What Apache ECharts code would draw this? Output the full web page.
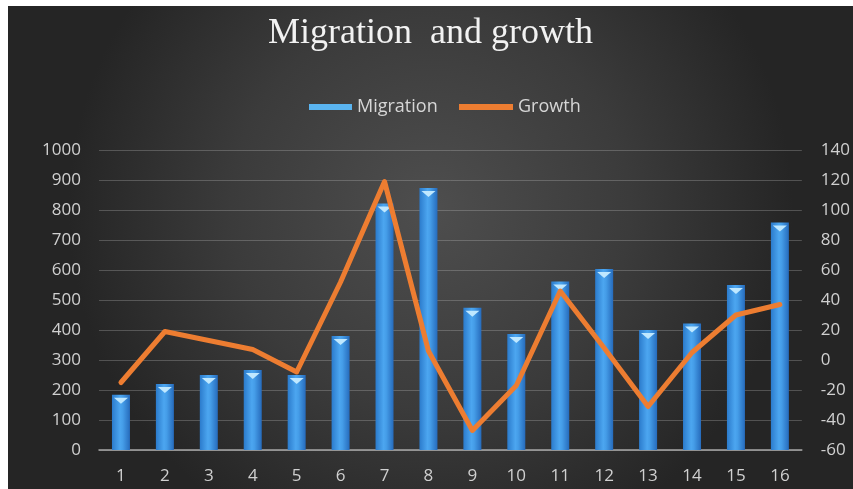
<!DOCTYPE html>
<html>
<head>
<meta charset="utf-8">
<script src="https://cdn.jsdelivr.net/npm/echarts@6/dist/echarts.min.js"></script>
<style>
  html, body { margin: 0; padding: 0; background: #ffffff; width: 853px; height: 489px; overflow: hidden; }
  #chart { position: absolute; left: 8px; top: 6px; width: 845px; height: 483px; }
</style>
</head>
<body>
<div id="chart"></div>
<script>
// Data
const categories = ['1','2','3','4','5','6','7','8','9','10','11','12','13','14','15','16'];
const migration = [184, 220, 250, 267, 250, 380, 822, 873, 474, 387, 562, 603, 400, 422, 550, 758];
const growth = [-15, 19, 13, 7, -8, 52, 119, 6, -47, -17, 46, 8, -31, 5, 30, 37];

const chart = echarts.init(document.getElementById('chart'));

const labelColor = '#d0d0d0';
const gridColor = 'rgba(200,200,200,0.28)';
const labelFont = 'Open Sans';

chart.setOption({
  animation: false,
  backgroundColor: {
    type: 'radial', x: 0.5, y: 0.42, r: 0.75,
    colorStops: [
      { offset: 0, color: '#4e4e4e' },
      { offset: 0.55, color: '#3b3b3b' },
      { offset: 1, color: '#252525' }
    ]
  },
  title: {
    text: 'Migration  and growth',
    left: 'center',
    top: 5,
    textStyle: {
      fontFamily: 'Liberation Serif',
      fontWeight: 'normal',
      fontSize: 36,
      color: '#f2f2f2'
    }
  },
  legend: [
    {
      left: 296, top: 87,
      itemWidth: 43, itemHeight: 6,
      textStyle: { color: '#d6d6d6', fontSize: 18, fontFamily: labelFont },
      data: [{ name: 'Migration', icon: 'rect', itemStyle: { color: '#5ab4f0' } }]
    },
    {
      left: 446, top: 87,
      itemWidth: 54, itemHeight: 6,
      textStyle: { color: '#d6d6d6', fontSize: 18, fontFamily: labelFont },
      data: [{ name: 'Growth', icon: 'rect', itemStyle: { color: '#ed7d31' } }]
    }
  ],
  grid: { left: 91, right: 44, top: 144, bottom: 39 },
  xAxis: {
    type: 'category',
    data: categories,
    axisTick: { show: false },
    axisLine: { lineStyle: { color: '#a8a8a8', width: 1.5 } },
    axisLabel: { color: labelColor, fontSize: 17, margin: 18, fontFamily: labelFont }
  },
  yAxis: [
    {
      type: 'value', min: 0, max: 1000, interval: 100,
      axisLine: { show: false }, axisTick: { show: false },
      splitLine: { lineStyle: { color: gridColor, width: 1 } },
      axisLabel: { color: labelColor, fontSize: 17, margin: 18, fontFamily: labelFont, formatter: v => String(v) }
    },
    {
      type: 'value', min: -60, max: 140, interval: 20,
      axisLine: { show: false }, axisTick: { show: false },
      splitLine: { show: false },
      axisLabel: { color: labelColor, fontSize: 17, margin: 19, fontFamily: labelFont, formatter: v => String(v) }
    }
  ],
  series: [
    {
      name: 'Migration',
      type: 'bar',
      data: migration,
      barWidth: 18,
      itemStyle: {
        color: {
          type: 'linear', x: 0, y: 0, x2: 1, y2: 0,
          colorStops: [
            { offset: 0, color: '#2b7bcc' },
            { offset: 0.45, color: '#4ca6f0' },
            { offset: 0.6, color: '#459de8' },
            { offset: 1, color: '#266bbc' }
          ]
        }
      },
      z: 2
    },
    {
      name: 'Migration',
      type: 'pictorialBar',
      data: migration,
      symbol: 'triangle',
      symbolRotate: 180,
      symbolSize: [14, 6],
      symbolPosition: 'end',
      symbolOffset: [0, '50%'],
      itemStyle: { color: '#bfe8ff' },
      legendHoverLink: false,
      silent: true,
      z: 3
    },
    {
      name: 'Growth',
      type: 'line',
      yAxisIndex: 1,
      data: growth,
      symbol: 'none',
      lineStyle: { color: '#ed7d31', width: 5, cap: 'round', join: 'round' },
      itemStyle: { color: '#ed7d31' },
      z: 5
    }
  ]
});
</script>
</body>
</html>
